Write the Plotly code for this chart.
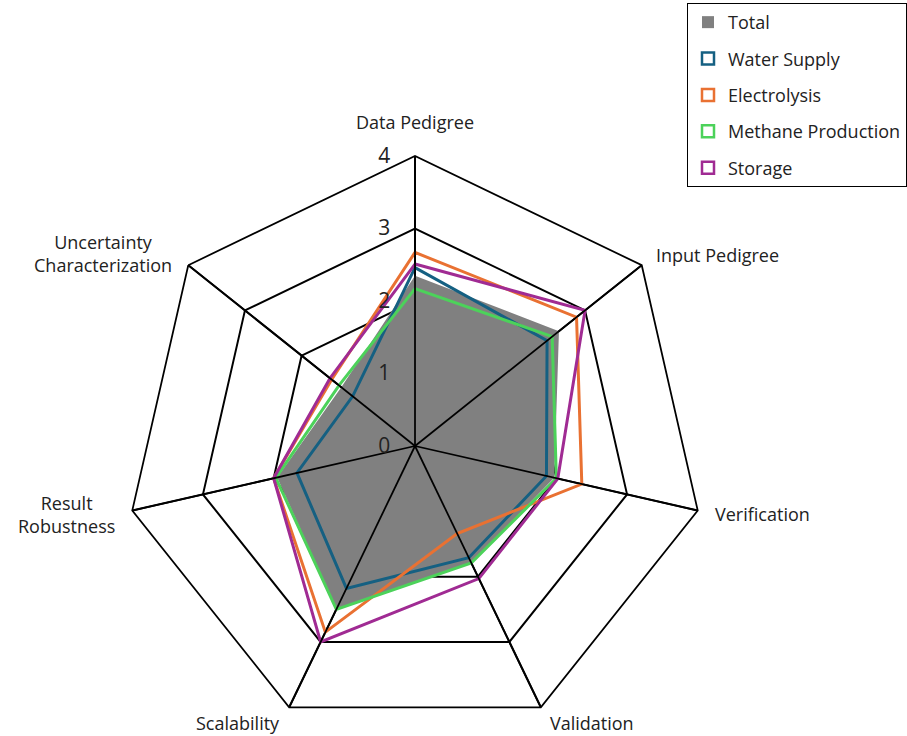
import math
import plotly.graph_objects as go

# Radar axes (clockwise from the top)
categories = [
    "Data Pedigree",
    "Input Pedigree",
    "Verification",
    "Validation",
    "Scalability",
    "Result Robustness",
    "Uncertainty Characterization",
]
axis_labels = [
    "Data Pedigree",
    "Input Pedigree",
    "Verification",
    "Validation",
    "Scalability",
    "Result<br>Robustness",
    "Uncertainty<br>Characterization",
]

# Scores per process step
total = [2.35, 2.54, 1.97, 1.79, 2.50, 1.95, 1.30]
water_supply = [2.46, 2.33, 1.86, 1.71, 2.18, 1.67, 1.10]
electrolysis = [2.67, 2.85, 2.36, 1.34, 2.85, 2.00, 1.47]
methane_production = [2.17, 2.42, 2.00, 1.79, 2.50, 1.97, 1.34]
storage = [2.51, 3.00, 2.02, 2.03, 3.00, 2.00, 1.50]

radial_ticks = [0, 1, 2, 3, 4]

series = [
    ("Water Supply", water_supply, "#156082"),
    ("Electrolysis", electrolysis, "#E97132"),
    ("Methane Production", methane_production, "#4CD25A"),
    ("Storage", storage, "#A02B93"),
]
TOTAL_COLOR = "#808080"
TEXT_COLOR = "#222222"
FONT = "Open Sans"
LABEL_SIZE = 18

# Category label placement: gap beyond the outer ring (px), anchors, nudge
label_gap = [20, 16, 16, 2, 2, 16, 18]
label_xanchor = ["center", "left", "left", "left", "right", "right", "right"]
label_yanchor = ["bottom", "middle", "middle", "top", "top", "middle", "middle"]
label_xshift = [0, 0, 0, 6, -6, 0, 0]

W, H = 907, 736
cx, cy, R = 415, 446, 290


def closed(values):
    return list(values) + [values[0]]


r_max = radial_ticks[-1]
fig = go.Figure()

# Total as a filled gray area
fig.add_trace(go.Scatterpolar(
    r=closed(total), theta=closed(categories),
    mode="lines", fill="toself", fillcolor=TOTAL_COLOR,
    line=dict(width=0, color=TOTAL_COLOR),
    name="Total", legendgroup="Total", showlegend=False, hoverinfo="skip",
))

# Outlines for each process step
for name, vals, color in series:
    fig.add_trace(go.Scatterpolar(
        r=closed(vals), theta=closed(categories),
        mode="lines", line=dict(width=3, color=color),
        name=name, legendgroup=name, showlegend=False,
    ))

# Spokes drawn on top of the data
spoke_r, spoke_t = [], []
for c in categories:
    spoke_r += [0, r_max, None]
    spoke_t += [c, c, c]
fig.add_trace(go.Scatterpolar(
    r=spoke_r, theta=spoke_t, mode="lines",
    line=dict(width=1.75, color="black"),
    showlegend=False, hoverinfo="skip", connectgaps=False,
))

# Legend entries with square swatches
fig.add_trace(go.Scatterpolar(
    r=[None], theta=[categories[0]], mode="markers", name="Total",
    legendgroup="Total",
    marker=dict(symbol="square", size=12, color=TOTAL_COLOR),
))
for name, vals, color in series:
    fig.add_trace(go.Scatterpolar(
        r=[None], theta=[categories[0]], mode="markers", name=name,
        legendgroup=name,
        marker=dict(symbol="square-open", size=12, color=color,
                    line=dict(width=2.5, color=color)),
    ))

# Category labels just outside each vertex of the outer ring
n = len(categories)
for i, text in enumerate(axis_labels):
    a = math.radians(90 - i * 360 / n)
    d = R + label_gap[i]
    px = cx + d * math.cos(a)
    py = cy - d * math.sin(a)
    fig.add_annotation(
        x=px / W, y=1 - py / H, xref="paper", yref="paper",
        text=text, showarrow=False, align="center",
        xanchor=label_xanchor[i], yanchor=label_yanchor[i],
        xshift=label_xshift[i],
        font=dict(size=LABEL_SIZE, color=TEXT_COLOR, family=FONT),
    )

fig.update_layout(
    width=W, height=H,
    margin=dict(l=0, r=0, t=0, b=0),
    paper_bgcolor="white",
    font=dict(family=FONT, color=TEXT_COLOR),
    polar=dict(
        domain=dict(x=[(cx - R) / W, (cx + R) / W], y=[0, 2 * R / H]),
        bgcolor="white",
        gridshape="linear",
        radialaxis=dict(
            range=[0, r_max], tickvals=radial_ticks,
            angle=90, side="counterclockwise", tickangle=90,
            showline=False, showgrid=True,
            gridcolor="black", gridwidth=1.75,
            ticks="outside", ticklen=17, tickcolor="rgba(0,0,0,0)",
            tickfont=dict(size=21, color=TEXT_COLOR),
        ),
        angularaxis=dict(
            categoryarray=categories, categoryorder="array",
            direction="clockwise", rotation=90,
            showline=True, linecolor="black", linewidth=1.75,
            showgrid=True, gridcolor="black", gridwidth=1.75,
            ticks="", showticklabels=False,
        ),
    ),
    legend=dict(
        x=1, xanchor="right", y=0.996, yanchor="top",
        bordercolor="black", borderwidth=1, bgcolor="white",
        font=dict(size=LABEL_SIZE, color=TEXT_COLOR),
        traceorder="grouped", tracegroupgap=10,
    ),
)

fig.write_html("out.html")
